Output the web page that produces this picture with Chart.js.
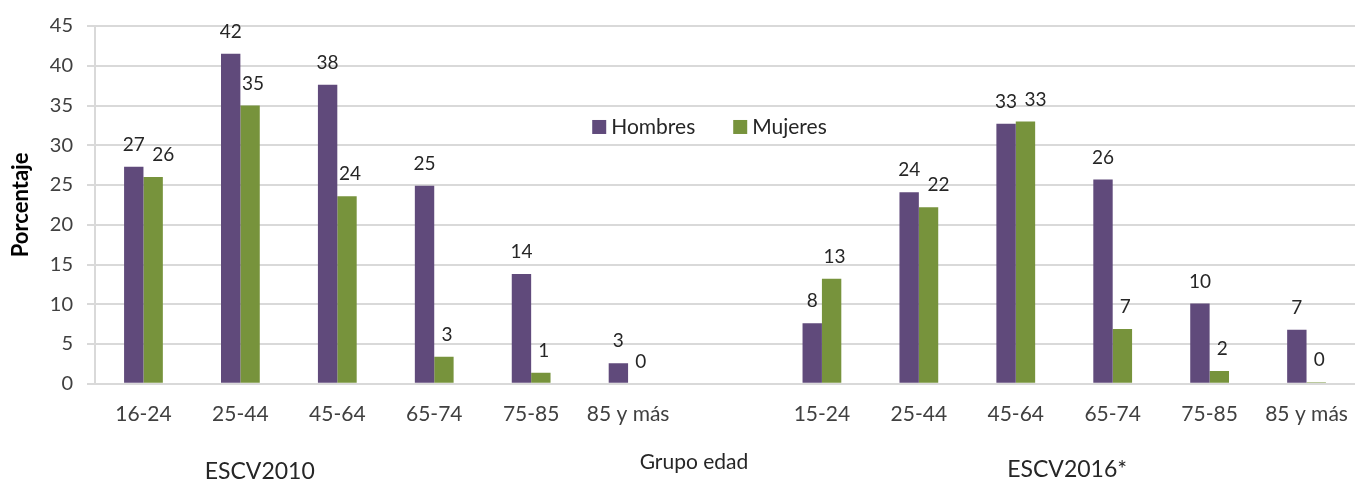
<!DOCTYPE html>
<html>
<head>
<meta charset="utf-8">
<script src="https://cdn.jsdelivr.net/npm/chart.js@4.4.0/dist/chart.umd.min.js"></script>
<style>
    html, body { margin: 0; padding: 0; background: #fff; }
    #wrap { width: 1355px; height: 482px; position: relative; }
</style>
</head>
<body>
<div id="wrap"><canvas id="chart"></canvas></div>
<script>
// Data
var categories = ["16-24", "25-44", "45-64", "65-74", "75-85", "85 y más", "",
    "15-24", "25-44", "45-64", "65-74", "75-85", "85 y más"];
var hombres = [27.3, 41.5, 37.6, 24.9, 13.8, 2.6, null, 7.6, 24.1, 32.7, 25.7, 10.1, 6.8];
var mujeres = [26.0, 35.0, 23.6, 3.4, 1.4, 0, null, 13.2, 22.2, 33.0, 6.9, 1.6, 0.2];
var yTicks = [0, 5, 10, 15, 20, 25, 30, 35, 40, 45];
var seriesNames = ["Hombres", "Mujeres"];
var groupNames = ["ESCV2010", "Grupo edad", "ESCV2016*"];

var purple = "#604A7B";
var green = "#77933C";
var textColor = "#404040";

// labels above each bar, rounded like the source
var barLabels = {
    id: "barLabels",
    afterDatasetsDraw: function (chart) {
        var ctx = chart.ctx;
        var mH = chart.getDatasetMeta(0).data;
        var mM = chart.getDatasetMeta(1).data;
        ctx.save();
        ctx.font = "19px Lato";
        ctx.fillStyle = "#262626";
        ctx.textAlign = "center";
        ctx.textBaseline = "middle";
        categories.forEach(function (c, j) {
            if (hombres[j] === null) return;
            var h = mH[j], m = mM[j];
            // push the second label aside when both sit at the same height
            var shift = Math.abs(h.y - m.y) < 18 ? 10 : 3;
            ctx.fillText(Math.round(hombres[j]), h.x, h.y - 22);
            ctx.fillText(Math.round(mujeres[j]), m.x + shift, m.y - 22);
        });
        ctx.restore();
    },
};

// legend inside the plot and the group captions under the axis
var extras = {
    id: "extras",
    afterDraw: function (chart) {
        var ctx = chart.ctx;
        var x = chart.scales.x;
        var y = chart.scales.y;
        ctx.save();
        ctx.textBaseline = "middle";
        ctx.textAlign = "left";
        ctx.font = "21px Lato";
        var lx = x.getPixelForValue(4.63);
        var ly = y.getPixelForValue(32.3);
        [purple, green].forEach(function (c, i) {
            ctx.fillStyle = c;
            ctx.fillRect(lx, ly - 7, 14, 14);
            ctx.fillStyle = "#262626";
            ctx.fillText(seriesNames[i], lx + 19, ly);
            lx += 141;
        });
        ctx.textAlign = "center";
        ctx.fillStyle = "#262626";
        ctx.font = "23px Lato";
        ctx.fillText(groupNames[0], x.getPixelForValue(1.2), 472);
        ctx.font = "21px Lato";
        ctx.fillText(groupNames[1], x.getPixelForValue(5.68), 462);
        ctx.font = "23px Lato";
        ctx.fillText(groupNames[2], x.getPixelForValue(9.53), 470);
        ctx.restore();
    },
};

new Chart("chart", {
    type: "bar",
    data: {
        labels: categories,
        datasets: [
            { label: seriesNames[0], data: hombres, backgroundColor: purple },
            { label: seriesNames[1], data: mujeres, backgroundColor: green },
        ],
    },
    options: {
        responsive: true,
        maintainAspectRatio: false,
        animation: false,
        layout: { padding: { top: 12, right: 0, bottom: 37, left: 8 } },
        datasets: { bar: { barPercentage: 1, categoryPercentage: 0.4 } },
        plugins: {
            legend: { display: false },
            tooltip: { enabled: false },
        },
        scales: {
            x: {
                afterFit: function (axis) {
                    axis.paddingLeft = 0;
                    axis.paddingRight = 0;
                },
                grid: { display: false, drawTicks: false },
                border: { color: "#d9d9d9", width: 2 },
                ticks: {
                    color: textColor,
                    font: { family: "Lato", size: 21 },
                    padding: 18,
                    maxRotation: 0,
                    autoSkip: false,
                },
            },
            y: {
                min: 0,
                max: 45,
                afterBuildTicks: function (axis) {
                    axis.ticks = yTicks.map(function (v) { return { value: v }; });
                },
                afterFit: function (axis) { axis.width = 87; },
                grid: { color: "#d9d9d9", lineWidth: 2, tickLength: 8 },
                border: { color: "#d9d9d9", width: 2 },
                ticks: {
                    color: textColor,
                    font: { family: "Lato", size: 20 },
                    padding: 14,
                },
                title: {
                    display: true,
                    text: "Porcentaje",
                    color: "#000",
                    font: { family: "Lato", size: 22, weight: "bold" },
                    padding: { top: 0, bottom: 0 },
                },
            },
        },
    },
    plugins: [barLabels, extras],
});
</script>
</body>
</html>
